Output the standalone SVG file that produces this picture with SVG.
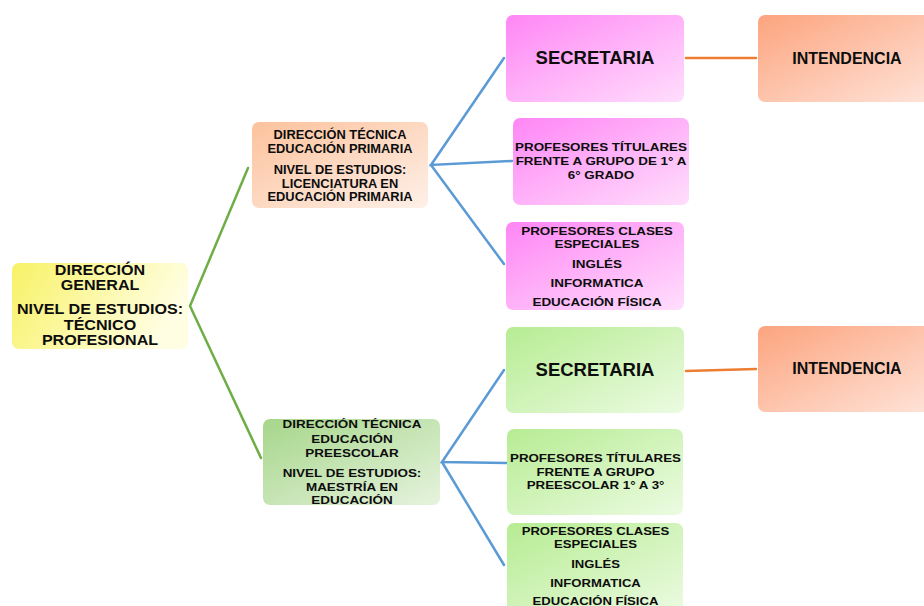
<svg xmlns="http://www.w3.org/2000/svg" width="924" height="606" viewBox="0 0 924 606">
<defs>
<linearGradient id="gYellow" x1="0" y1="0" x2="1" y2="0.3"><stop offset="0" stop-color="#f8f266"/><stop offset="1" stop-color="#fffee2"/></linearGradient>
<linearGradient id="gPeach" x1="0" y1="0" x2="1" y2="1"><stop offset="0" stop-color="#fcc29c"/><stop offset="1" stop-color="#fef0e8"/></linearGradient>
<linearGradient id="gSage" x1="0" y1="0" x2="1" y2="1"><stop offset="0" stop-color="#a6d68a"/><stop offset="1" stop-color="#e6f3de"/></linearGradient>
<linearGradient id="gPink" x1="0" y1="0" x2="1" y2="1"><stop offset="0" stop-color="#ff86f5"/><stop offset="1" stop-color="#ffdefc"/></linearGradient>
<linearGradient id="gGreen" x1="0" y1="0" x2="1" y2="1"><stop offset="0" stop-color="#b6ec92"/><stop offset="1" stop-color="#ecfbe2"/></linearGradient>
<linearGradient id="gOrange" x1="0" y1="0" x2="1" y2="1"><stop offset="0" stop-color="#fca47e"/><stop offset="1" stop-color="#ffe4da"/></linearGradient>
</defs>
<style>
text{font-family:"Liberation Sans",Arial,sans-serif;font-weight:bold;fill:#0d0d0d;text-anchor:middle}
.c{fill:none;stroke-width:2.5;stroke-linecap:round}
.green{stroke:#6fad46}
.blue{stroke:#5b9bd5}
.orange{stroke:#ed7d31}
</style>
<g id="connectors">
<path class="c green" d="M248 168 L190 306 L261 458"/>
<path class="c blue" d="M504 58 L431 165 L512 161"/>
<path class="c blue" d="M431 165 L504 264"/>
<path class="c blue" d="M504 370 L442 462 L507 463"/>
<path class="c blue" d="M442 462 L504 565"/>
<path class="c orange" d="M686 58 L756 58"/>
<path class="c orange" d="M686 371 L756 369"/>
</g>
<g id="root">
<rect x="12" y="263" width="176" height="86" rx="7" fill="url(#gYellow)"/>
<g transform="translate(100 0) scale(1.15 1)" font-size="14">
<text x="0" y="275">DIRECCIÓN</text>
<text x="0" y="290.5">GENERAL</text>
<text x="0" y="314">NIVEL DE ESTUDIOS:</text>
<text x="0" y="330">TÉCNICO</text>
<text x="0" y="345">PROFESIONAL</text>
</g>
</g>
<g id="primaria">
<rect x="252" y="122" width="176" height="86" rx="7" fill="url(#gPeach)"/>
<g transform="translate(340 0) scale(1.03 1)" font-size="12.5">
<text x="0" y="139">DIRECCIÓN TÉCNICA</text>
<text x="0" y="153">EDUCACIÓN PRIMARIA</text>
<text x="0" y="174">NIVEL DE ESTUDIOS:</text>
<text x="0" y="188">LICENCIATURA EN</text>
<text x="0" y="201">EDUCACIÓN PRIMARIA</text>
</g>
</g>
<g id="preescolar">
<rect x="263" y="419" width="177" height="86" rx="7" fill="url(#gSage)"/>
<g transform="translate(352 0) scale(1.15 1)" font-size="11.7">
<text x="0" y="428">DIRECCIÓN TÉCNICA</text>
<text x="0" y="443">EDUCACIÓN</text>
<text x="0" y="457">PREESCOLAR</text>
<text x="0" y="477">NIVEL DE ESTUDIOS:</text>
<text x="0" y="491">MAESTRÍA EN</text>
<text x="0" y="504">EDUCACIÓN</text>
</g>
</g>
<g id="secretaria1">
<rect x="506" y="15" width="178" height="87" rx="7" fill="url(#gPink)"/>
<text x="595" y="64" font-size="18.5">SECRETARIA</text>
</g>
<g id="titulares1">
<rect x="513" y="118" width="176" height="87" rx="7" fill="url(#gPink)"/>
<g transform="translate(601 0) scale(1.22 1)" font-size="11">
<text x="0" y="151">PROFESORES TÍTULARES</text>
<text x="0" y="165">FRENTE A GRUPO DE 1° A</text>
<text x="0" y="179">6° GRADO</text>
</g>
</g>
<g id="clases1">
<rect x="506" y="222" width="178" height="88" rx="7" fill="url(#gPink)"/>
<g transform="translate(597 0) scale(1.15 1)" font-size="11.7">
<text x="0" y="235">PROFESORES CLASES</text>
<text x="0" y="248">ESPECIALES</text>
<text x="0" y="268">INGLÉS</text>
<text x="0" y="287.5">INFORMATICA</text>
<text x="0" y="306.5">EDUCACIÓN FÍSICA</text>
</g>
</g>
<g id="intendencia1">
<rect x="758" y="15" width="180" height="87" rx="7" fill="url(#gOrange)"/>
<text x="847" y="64" font-size="16">INTENDENCIA</text>
</g>
<g id="secretaria2">
<rect x="506" y="327" width="178" height="86" rx="7" fill="url(#gGreen)"/>
<text x="595" y="376" font-size="18.5">SECRETARIA</text>
</g>
<g id="titulares2">
<rect x="507" y="429" width="176" height="86" rx="7" fill="url(#gGreen)"/>
<g transform="translate(595.5 0) scale(1.14 1)" font-size="11.7">
<text x="0" y="462.5">PROFESORES TÍTULARES</text>
<text x="0" y="476">FRENTE A GRUPO</text>
<text x="0" y="489.5">PREESCOLAR 1° A 3°</text>
</g>
</g>
<g id="clases2">
<rect x="507" y="523" width="176" height="92" rx="7" fill="url(#gGreen)"/>
<g transform="translate(595.5 0) scale(1.12 1)" font-size="11.7">
<text x="0" y="535.5">PROFESORES CLASES</text>
<text x="0" y="548.5">ESPECIALES</text>
<text x="0" y="568">INGLÉS</text>
<text x="0" y="587.5">INFORMATICA</text>
<text x="0" y="605">EDUCACIÓN FÍSICA</text>
</g>
</g>
<g id="intendencia2">
<rect x="758" y="326" width="180" height="86" rx="7" fill="url(#gOrange)"/>
<text x="847" y="374" font-size="16">INTENDENCIA</text>
</g>
</svg>
